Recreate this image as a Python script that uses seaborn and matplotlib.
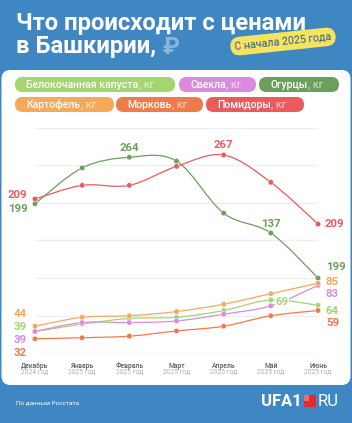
import numpy as np
import pandas as pd
import seaborn as sns
import matplotlib.pyplot as plt
from matplotlib.patches import FancyBboxPatch, PathPatch, Rectangle
from matplotlib.path import Path

sns.set_style("white")
plt.rcParams["font.family"] = ["Roboto", "DejaVu Sans"]

# данные (руб./кг)
months = ["Декабрь", "Январь", "Февраль", "Март", "Апрель", "Май", "Июнь"]
years = ["2024 год", "2025 год", "2025 год", "2025 год", "2025 год", "2025 год", "2025 год"]
series = ["Белокочанная капуста", "Свекла", "Огурцы", "Картофель", "Морковь", "Помидоры"]

cabbage = [39, 46, 51.5, 52.5, 59, 69, 64]
beet = [39, 47.5, 47.5, 49, 55.5, 63.5, 83]
cucumber = [199, 250, 264, 259, 179, 137, 90]
potato = [44, 52.5, 54, 58, 65, 75, 85]
carrot = [32, 33, 34.5, 39.5, 44, 54, 59]
tomato = [209, 227, 227, 252, 267, 231, 156]

# подписи, как они напечатаны на графике: (ряд, месяц, текст)
point_labels = [
    ("Помидоры", 0, "209"), ("Огурцы", 0, "199"), ("Картофель", 0, "44"),
    ("Белокочанная капуста", 0, "39"), ("Свекла", 0, "39"), ("Морковь", 0, "32"),
    ("Огурцы", 2, "264"), ("Помидоры", 4, "267"), ("Огурцы", 5, "137"),
    ("Белокочанная капуста", 5, "69"),
    ("Помидоры", 6, "209"), ("Огурцы", 6, "199"), ("Картофель", 6, "85"),
    ("Свекла", 6, "83"), ("Белокочанная капуста", 6, "64"), ("Морковь", 6, "59"),
]

colors = ["#A4D56E", "#D98BDF", "#6C9F5B", "#F6A85B", "#EF7B48", "#E95B5D"]
BLUE = "#3F87C2"

values = dict(zip(series, [cabbage, beet, cucumber, potato, carrot, tomato]))
palette = dict(zip(series, colors))

df = pd.DataFrame({
    "month": np.tile(np.arange(len(months)), len(series)),
    "price": np.concatenate([values[s] for s in series]),
    "series": np.repeat(series, len(months)),
})

# оформительская шкала: нижняя группа растянута, верхняя сжата
val_knots = [0, 30, 90, 137, 209, 267, 330]
vis_knots = [-19.4, 12.1, 75, 120, 154, 198, 246]


def fwd(v):
    return np.interp(v, val_knots, vis_knots)


def inv(v):
    return np.interp(v, vis_knots, val_knots)


def smooth_path(vals, step=47.0):
    pts = np.column_stack([np.arange(len(vals)) * step, fwd(np.asarray(vals, float))])
    ext = np.vstack([pts[0], pts, pts[-1]])
    verts, codes = [pts[0]], [Path.MOVETO]
    for i in range(len(pts) - 1):
        p0, p1, p2, p3 = ext[i], ext[i + 1], ext[i + 2], ext[i + 3]
        verts += [p1 + (p2 - p0) / 6, p2 - (p3 - p1) / 6, p2]
        codes += [Path.CURVE4] * 3
    verts = np.array(verts)
    verts[:, 0] /= step
    verts[:, 1] = inv(verts[:, 1])
    return Path(verts, codes)


fig = plt.figure(figsize=(3.52, 4.23), dpi=100, facecolor=BLUE)

bg = fig.add_axes([0, 0, 1, 1], zorder=0)
bg.set_xlim(0, 352)
bg.set_ylim(423, 0)
bg.axis("off")
bg.add_patch(FancyBboxPatch((1.5, 70), 349, 315, boxstyle="round,pad=0,rounding_size=9",
                            fc="white", ec="none"))

# заголовок
bg.text(16, 30, "Что происходит с ценами", fontsize=17.2, weight="bold", color="white", va="baseline")
t2 = bg.text(16, 53.5, "в Башкирии,", fontsize=17.2, weight="bold", color="white", va="baseline")
bg.annotate("₽", xy=(1, 0), xycoords=t2, xytext=(6, 0), textcoords="offset pixels",
            fontsize=17.2, weight="bold", color="#8DB5DA", va="bottom", ha="left")
bg.text(283, 41.5, "С начала 2025 года", rotation=6, rotation_mode="anchor", ha="center", va="center",
        fontsize=7.7, color="#2D5C8A",
        bbox=dict(boxstyle="round,pad=0.4,rounding_size=0.9", fc="#F6E45F", ec="none"))

# легенда-плашки
pill_boxes = [(15, 77, 160, 15), (179, 77, 77, 15), (259, 77, 80, 15),
              (15, 97, 99, 15), (116, 97, 87, 15), (206, 97, 98, 15)]
for name, c, (x0, y0, w, h) in zip(series, colors, pill_boxes):
    bg.add_patch(FancyBboxPatch((x0, y0), w, h, boxstyle="round,pad=0,rounding_size=7.5",
                                fc=c, ec="none"))
    t = bg.text(x0 + 11.5, y0 + h / 2, name, fontsize=7.6, color="white", va="center", ha="left",
                weight="medium")
    bg.annotate(", кг", xy=(1, 0.5), xycoords=t, fontsize=7.6, color="white", alpha=0.6,
                va="center", ha="left", weight="medium")

# подвал
bg.text(16, 403, "По данным Росстата", fontsize=4.6, color="white", va="center")
bg.text(302, 401, "UFA1", fontsize=12, weight="bold", color="white", va="center", ha="right")
bg.add_patch(Rectangle((304, 395), 12, 12, fc="#E42A2E", ec="none"))
bg.add_patch(Rectangle((304, 395), 5, 6, fc="#F26A6A", ec="none"))
bg.text(318, 401, "RU", fontsize=12, color="white", va="center", ha="left")

# график
ax = fig.add_axes([35 / 352, 70 / 423, 283 / 352, 225 / 423], zorder=1)
ax.patch.set_alpha(0)
ax.set_yscale("function", functions=(fwd, inv))

for k in range(7):
    ax.axhline(inv(k * 37.5), color="#EFEFEF", lw=0.9, zorder=0)

for name in series:
    ax.add_patch(PathPatch(smooth_path(values[name]), fill=False, ec=palette[name], lw=0.9,
                           zorder=2, clip_on=False))

sns.scatterplot(data=df, x="month", y="price", hue="series", palette=palette, s=15,
                edgecolor="white", linewidth=0.3, legend=False, ax=ax, zorder=3, clip_on=False)

label_offsets = [
    (-7.5, 4, "right"), (-7.5, -5.3, "right"), (-8, 12.2, "right"),
    (-8, 4.5, "right"), (-8, -8.5, "right"), (-8, -14.2, "right"),
    (0, 9.3, "center"), (0, 10, "center"), (0, 9, "center"),
    (11, -2, "center"),
    (7, 0, "left"), (8, 11, "left"), (8, 1.2, "left"),
    (8, -8.7, "left"), (8, -5.7, "left"), (8, -12.5, "left"),
]
for (name, i, txt), (dx, dy, ha) in zip(point_labels, label_offsets):
    box = dict(boxstyle="square,pad=0.05", fc="white", ec="none") if txt == "69" else None
    ax.annotate(txt, (i, values[name][i]), xytext=(dx, dy), textcoords="offset pixels",
                ha=ha, va="center", fontsize=8.2, weight="bold", color=palette[name],
                zorder=5, annotation_clip=False, bbox=box)

for i, (m, y) in enumerate(zip(months, years)):
    ax.annotate(m, (i, 0), xycoords=("data", "axes fraction"), xytext=(0, -12.5),
                textcoords="offset pixels", ha="center", va="center", fontsize=4.9,
                color="#5B5B5B", weight="medium", annotation_clip=False)
    ax.annotate(y, (i, 0), xycoords=("data", "axes fraction"), xytext=(0, -19.5),
                textcoords="offset pixels", ha="center", va="center", fontsize=4.9,
                color="#B3B3B3", annotation_clip=False)

ax.set_xlim(0, 6)
ax.set_ylim(inv(0), inv(225))
ax.axis("off")

fig.savefig("out.png", dpi=100, facecolor=BLUE)
